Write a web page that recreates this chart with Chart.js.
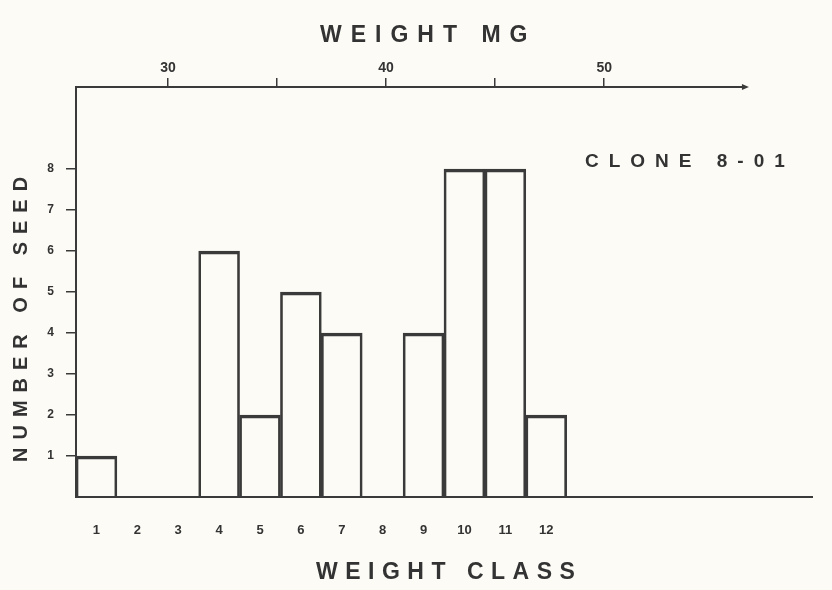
<!DOCTYPE html>
<html>
<head>
<meta charset="utf-8">
<script src="https://cdn.jsdelivr.net/npm/chart.js@4"></script>
<style>
  body { margin: 0; background: #fcfbf6; }
  #wrap { width: 832px; height: 590px; position: relative; }
</style>
</head>
<body>
<div id="wrap"><canvas id="chart1"></canvas></div>
<script>
// weight classes and number of seed per class (clone 8-01)
const weightClasses = [1, 2, 3, 4, 5, 6, 7, 8, 9, 10, 11, 12];
const seedCounts = [1, 0, 0, 6, 2, 5, 4, 0, 4, 8, 8, 2];
const seedTicks = [1, 2, 3, 4, 5, 6, 7, 8];
const mgTicks = [30, 35, 40, 45, 50];
const mgTickLabels = ['30', '', '40', '', '50'];

const ink = '#3a3a3a';
const textInk = '#333';

// titles are hand lettered with wide spacing, so draw them here
const lettering = {
    id: 'lettering',
    afterDraw(chart) {
        const ctx = chart.ctx;
        const area = chart.chartArea;
        const top = chart.scales.x2;

        // top axis line with arrow end
        const yTop = area.top;
        const xEnd = top.getPixelForValue(56.5);
        ctx.save();
        ctx.strokeStyle = ink;
        ctx.fillStyle = ink;
        ctx.lineWidth = 2;
        ctx.beginPath();
        ctx.moveTo(area.left - 1, yTop);
        ctx.lineTo(xEnd, yTop);
        ctx.stroke();
        ctx.beginPath();
        ctx.moveTo(xEnd + 3, yTop);
        ctx.lineTo(xEnd - 4, yTop - 3);
        ctx.lineTo(xEnd - 4, yTop + 3);
        ctx.closePath();
        ctx.fill();

        ctx.fillStyle = textInk;
        ctx.textBaseline = 'alphabetic';
        ctx.textAlign = 'left';

        ctx.font = 'bold 23px "Liberation Sans", Arial, sans-serif';
        ctx.letterSpacing = '9px';
        ctx.fillText('WEIGHT MG', area.left + 244, 42);

        ctx.letterSpacing = '7.5px';
        ctx.fillText('WEIGHT CLASS', area.left + 240, area.bottom + 82);

        ctx.font = 'bold 19px "Liberation Sans", Arial, sans-serif';
        ctx.letterSpacing = '10px';
        ctx.fillText('CLONE 8-01', area.left + 509, area.top + 80);

        ctx.font = 'bold 20px "Liberation Sans", Arial, sans-serif';
        ctx.letterSpacing = '8px';
        ctx.translate(area.left - 55, area.bottom - 35);
        ctx.rotate(-Math.PI / 2);
        ctx.textBaseline = 'middle';
        ctx.fillText('NUMBER OF SEED', 0, 0);
        ctx.restore();
    }
};

const data = {
    datasets: [{
        label: 'Number of seed',
        data: weightClasses.map((c, i) => ({ x: c, y: seedCounts[i] })),
        backgroundColor: 'rgba(0,0,0,0)',
        borderColor: ink,
        borderWidth: { top: 3, left: 2, right: 2, bottom: 0 },
        borderSkipped: false,
        barPercentage: 1,
        categoryPercentage: 1,
        xAxisID: 'x',
        yAxisID: 'y'
    }]
};

const config = {
    type: 'bar',
    data: data,
    plugins: [lettering],
    options: {
        responsive: true,
        maintainAspectRatio: false,
        animation: false,
        layout: { padding: { left: 0, right: 20, top: 0, bottom: 0 } },
        plugins: {
            legend: { display: false },
            tooltip: { enabled: false },
            title: { display: false }
        },
        scales: {
            x: {
                type: 'linear',
                position: 'bottom',
                offset: false,
                min: 0.5,
                max: 18.5,
                afterBuildTicks: scale => {
                    scale.ticks = weightClasses.map(c => ({ value: c }));
                },
                afterFit: scale => { scale.height = 93; },
                ticks: {
                    callback: (v, i) => String(weightClasses[i]),
                    color: textInk,
                    font: { family: '"Liberation Sans", Arial', size: 13, weight: 'bold' },
                    padding: 26,
                    maxRotation: 0,
                    autoSkip: false
                },
                grid: { display: false, drawTicks: false, offset: false },
                border: { display: true, color: ink, width: 2 }
            },
            x2: {
                type: 'linear',
                position: 'top',
                offset: false,
                min: 25.78,
                max: 59.53,
                afterBuildTicks: scale => {
                    scale.ticks = mgTicks.map(v => ({ value: v }));
                },
                afterFit: scale => { scale.height = 87; },
                ticks: {
                    callback: (v, i) => mgTickLabels[i],
                    color: textInk,
                    font: { family: '"Liberation Sans", Arial', size: 14, weight: 'bold' },
                    padding: 1,
                    maxRotation: 0,
                    autoSkip: false
                },
                grid: { offset: false, drawOnChartArea: false, drawTicks: true, tickLength: 9, color: ink, lineWidth: 1.5 },
                border: { display: false }
            },
            y: {
                type: 'linear',
                position: 'left',
                min: 0,
                max: 10,
                afterBuildTicks: scale => {
                    scale.ticks = seedTicks.map(v => ({ value: v }));
                },
                afterFit: scale => { scale.width = 76; },
                ticks: {
                    color: textInk,
                    font: { family: '"Liberation Sans", Arial', size: 12, weight: 'bold' },
                    padding: 12
                },
                grid: { drawOnChartArea: false, drawTicks: true, tickLength: 10, color: ink, lineWidth: 1.5 },
                border: { display: true, color: ink, width: 2 }
            }
        }
    }
};

const myChart = new Chart(
    document.getElementById('chart1'),
    config
);
</script>
</body>
</html>
